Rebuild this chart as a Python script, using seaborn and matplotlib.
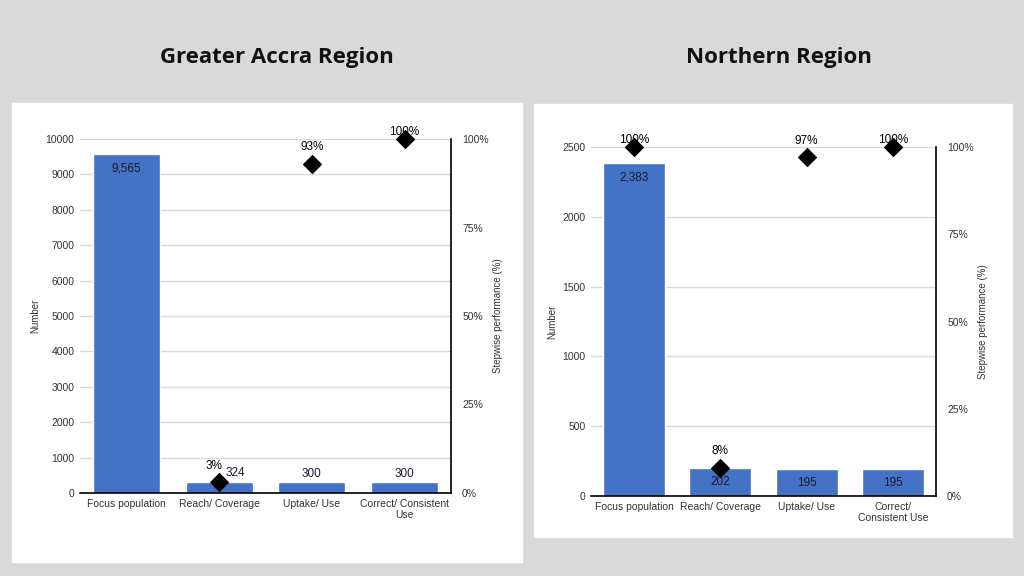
import numpy as np
import pandas as pd
import matplotlib
matplotlib.use("Agg")
import matplotlib.pyplot as plt
import matplotlib.patches as mpatches
import seaborn as sns

# data
steps_accra = ["Focus population", "Reach/ Coverage", "Uptake/ Use", "Correct/ Consistent\nUse"]
counts_accra = [9565, 324, 300, 300]
pct_accra = [np.nan, 3, 93, 100]

steps_north = ["Focus population", "Reach/ Coverage", "Uptake/ Use", "Correct/\nConsistent Use"]
counts_north = [2383, 202, 195, 195]
pct_north = [100, 8, 97, 100]

sns.set_theme(style="white")
plt.rcParams["font.family"] = ["Liberation Sans", "DejaVu Sans"]

bar_color = "#4472c4"
grid_color = "#d9d9d9"

fig = plt.figure(figsize=(10.24, 5.76), dpi=100)
fig.patch.set_facecolor("#d9d9d9")

# white panels behind each chart
fig.patches.append(mpatches.Rectangle((12/1024, 1-562/576), 510/1024, 459/576,
                                      transform=fig.transFigure, color="white", zorder=-5))
fig.patches.append(mpatches.Rectangle((534/1024, 1-537/576), 478/1024, 433/576,
                                      transform=fig.transFigure, color="white", zorder=-5))

fig.text(277/1024, 1-57/576, "Greater Accra Region", ha="center", va="center",
         fontsize=16, fontweight="bold", family=["Open Sans", "DejaVu Sans"], color="#111111")
fig.text(779/1024, 1-57/576, "Northern Region", ha="center", va="center",
         fontsize=16, fontweight="bold", family=["Open Sans", "DejaVu Sans"], color="#111111")


def draw_panel(rect, steps, counts, pcts, ymax, ystep, inside_labels, shifted=None):
    ax = fig.add_axes(rect)
    ax.set_facecolor("none")
    df = pd.DataFrame({"step": steps, "count": counts, "pct": pcts})
    sns.barplot(data=df, x="step", y="count", color=bar_color, width=0.72,
                saturation=1, ax=ax, zorder=2)
    ax.set_ylim(0, ymax)
    ax.set_xlim(-0.5, len(steps) - 0.5)
    ax.set_yticks(np.arange(0, ymax + 1, ystep))
    ax.yaxis.grid(True, color=grid_color, linewidth=1, zorder=0)
    ax.set_axisbelow(True)
    for s in ["left", "top", "right"]:
        ax.spines[s].set_visible(False)
    ax.spines["bottom"].set_color("black")
    ax.spines["bottom"].set_linewidth(1.2)
    ax.tick_params(axis="both", length=0, labelsize=7.5, colors="#333333", pad=4)
    ax.set_xlabel("")
    ax.set_ylabel("Number", fontsize=7, color="#333333", labelpad=4)

    for i, c in enumerate(counts):
        lab = f"{c:,}"
        if i in inside_labels:
            ax.annotate(lab, (i, c), xytext=(0, -10), textcoords="offset points",
                        ha="center", va="center", fontsize=8.5, color="#1a1a2e")
        else:
            dx = 12 if shifted == i else 0
            ax.annotate(lab, (i, c), xytext=(dx, 6), textcoords="offset points",
                        ha="center", va="center", fontsize=8.5, color="#1a1a2e")

    ax2 = ax.twinx()
    ax2.set_ylim(0, 100)
    sns.scatterplot(data=df, x="step", y="pct", marker="D", s=85, color="black",
                    edgecolor="black", ax=ax2, zorder=5, clip_on=False)
    ax2.set_xlim(-0.5, len(steps) - 0.5)
    ax2.set_yticks([0, 25, 50, 75, 100])
    ax2.set_yticklabels(["0%", "25%", "50%", "75%", "100%"])
    ax2.tick_params(axis="y", length=0, labelsize=7.5, colors="#333333", pad=8)
    for s in ["left", "top", "bottom"]:
        ax2.spines[s].set_visible(False)
    ax2.spines["right"].set_color("black")
    ax2.spines["right"].set_linewidth(1.2)
    ax2.set_ylabel("Stepwise performance (%)", fontsize=7, color="#333333", labelpad=3)
    ax2.set_xlabel("")
    for i, p in enumerate(pcts):
        if np.isnan(p):
            continue
        dx = -4 if shifted == i else 0
        dy = 5 if p >= 99.5 else 12
        ax2.annotate(f"{p:.0f}%", (i, p), xytext=(dx, dy), textcoords="offset points",
                     ha="center", va="center", fontsize=8.5, color="black")
    return ax, ax2


draw_panel([80/1024, 1-493/576, 371/1024, 354/576], steps_accra, counts_accra, pct_accra,
           10000, 1000, inside_labels=[0], shifted=1)
draw_panel([591/1024, 1-496/576, 345/1024, 349/576], steps_north, counts_north, pct_north,
           2500, 500, inside_labels=[0, 1, 2, 3])

fig.savefig("out.png", dpi=100, facecolor=fig.get_facecolor())
